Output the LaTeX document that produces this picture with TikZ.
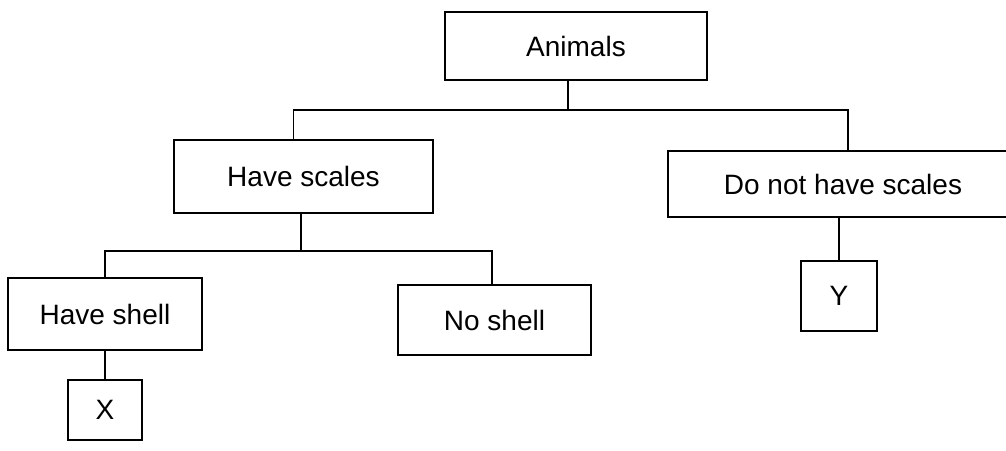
\documentclass[tikz,border=0pt]{standalone}
\usepackage{fontspec}
\setmainfont{Liberation Sans}
\begin{document}
\begin{tikzpicture}[x=1pt,y=-1pt,
  box/.style={draw, line width=1.8pt, inner sep=0pt, font=\fontsize{28}{31}\selectfont},
  link/.style={line width=1.8pt}]
\useasboundingbox (0,0) rectangle (1006,450);
\node[box, minimum width=262pt, minimum height=68pt] (a) at (576,46) {Animals};
\node[box, minimum width=259pt, minimum height=73pt] (hs) at (303.5,176.5) {Have scales};
\node[box, minimum width=350pt, minimum height=66pt] (dn) at (843,184) {Do not have scales};
\node[box, minimum width=194pt, minimum height=72pt] (hsh) at (105,314) {Have shell};
\node[box, minimum width=193pt, minimum height=70pt] (ns) at (494.5,320) {No shell};
\node[box, minimum width=74pt, minimum height=60pt] (x) at (105,410) {X};
\node[box, minimum width=76pt, minimum height=70pt] (y) at (839,296) {Y};
\coordinate (j1) at (568,110);
\coordinate (j2) at (301,251);
\draw[link] (a.south -| j1) -- (j1);
\draw[link] ([xshift=-10pt]hs.north) |- (j1) -| ([xshift=5pt]dn.north);
\draw[link] (hs.south -| j2) -- (j2);
\draw[link] (hsh.north) |- (j2) -| ([xshift=-2.5pt]ns.north);
\draw[link] (hsh.south) -- (x.north);
\draw[link] (dn.south -| y.north) -- (y.north);
\end{tikzpicture}
\end{document}
